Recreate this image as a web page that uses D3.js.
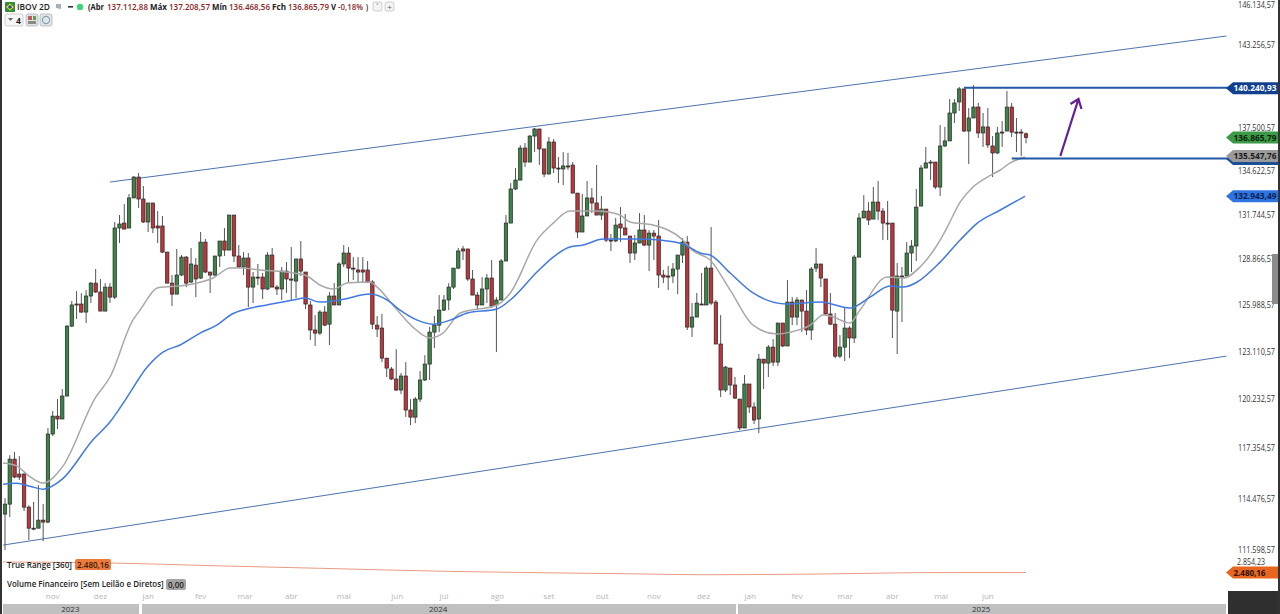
<!DOCTYPE html>
<html><head><meta charset="utf-8">
<script src="https://cdn.jsdelivr.net/npm/d3@7"></script>
<style>
html,body{margin:0;padding:0;background:#fff;overflow:hidden}
svg{display:block}
text{font-family:"Open Sans","Noto Sans",sans-serif}
</style></head><body><svg id="c" width="1280" height="614"></svg>
<script>
const opens=[113600,114160,116730,115870,115870,113990,112810,112810,113260,113150,118190,119240,119070,120430,124670,126040,126040,125540,126540,127350,126790,125600,127100,126470,130870,131190,130870,132830,134210,132760,131260,132500,131000,131000,129320,127350,126660,127860,129000,127420,128490,127670,129960,128050,127860,129070,130030,129450,131710,129070,128370,128940,127100,127730,127730,126980,129130,127100,126980,128110,127610,127480,128880,128050,125980,124430,124240,125540,124790,126540,125980,128560,129260,128300,128180,128180,128180,127420,124730,124550,122710,122050,121450,120790,121630,119600,119180,120250,121390,122350,124300,124730,125660,126290,127100,128300,129520,129520,127610,126600,125980,126980,127670,125980,126290,128750,131190,133420,134010,136150,135210,136960,137440,136090,134410,136560,134810,134750,134950,135010,133150,130610,131650,132830,132500,131710,132100,130090,130030,131130,130870,130350,129260,129900,130740,129770,130540,130350,127860,127800,127800,128240,129130,129960,124610,125230,126040,125980,128300,126160,123570,120790,122110,121090,120250,118540,121150,119780,119070,122650,122410,123380,122470,124860,123450,126160,125230,126290,125600,124430,128300,128560,127610,125420,124790,122830,123380,124550,123940,129000,131520,131970,131450,132560,131970,131190,131190,125600,127800,127800,129260,129710,132300,134810,135210,135210,133550,136290,136630,138530,139290,140190,137300,138190,138940,137170,137580,136290,135820,137230,137300,138940,137230,137230,137113];
const highs=[114500,116960,117140,116900,115930,114100,114280,115240,114160,118540,119540,120250,120850,124730,126230,126850,126720,126910,127420,128240,127610,127350,127350,131260,131710,132430,133090,134280,134480,133620,132500,132500,131970,131650,129320,127860,129520,129130,129070,129580,128940,130610,130160,128050,129070,130030,130870,131710,131710,129770,129320,129260,128050,128560,127990,129320,129580,127230,128370,128680,129640,128880,130030,128050,126230,125350,125660,125910,126790,127350,128680,129770,129640,129000,129000,129000,128750,127540,125290,125420,122710,122170,123260,121810,122470,120250,120370,121930,122890,124610,125290,126600,126600,127350,128300,129580,129710,129520,128180,126790,127730,127920,128810,126470,128880,131710,133810,134810,136350,136490,137030,137510,137440,136090,136900,136760,135550,135880,135820,135210,133150,133090,133950,133480,135010,132960,132100,130480,131520,132230,131780,130350,130420,131840,131710,130740,130740,131390,128180,128430,128620,129130,130220,130350,126100,126730,127990,128430,130930,126290,125350,122230,122110,121570,120250,121690,121150,120070,122960,122650,123510,123870,124860,124860,127540,126470,126470,126290,126910,128370,129580,128560,127610,126730,125480,124120,125790,124670,129130,131840,133020,132560,133550,133950,132170,132630,131190,128620,128370,129960,130090,133420,135010,136220,135350,135210,137710,137580,139490,139490,140330,140190,138870,140460,139220,138530,138870,136960,137580,137980,140050,139220,138190,137440,137209];
const lows=[111590,113430,115640,115530,113770,112150,112700,112810,112090,113090,118070,118480,119070,120430,124610,125110,125480,124860,126100,126730,125600,125600,126100,126350,129900,130800,130870,132830,132170,131190,130610,130540,129900,129260,127350,125910,126660,127800,127100,127350,126470,127610,127990,126730,127800,128370,129070,129450,128680,128300,127860,125850,126100,127230,126350,126910,127100,126600,126290,126730,126290,126410,127800,125730,123810,123450,124120,124670,123510,125980,125980,128370,127420,127540,127350,127350,127350,124490,124000,122470,121570,121390,120730,120550,119190,118710,118830,120070,121330,121390,123320,124300,125600,125660,126980,128240,128810,127480,126600,125660,125980,126100,125790,123080,126290,128750,131190,133350,134010,134880,135210,135880,135010,134210,134410,134480,133810,133680,134680,133150,130220,130610,131650,131840,131710,131390,129960,129390,129960,129960,130420,128620,128810,129900,129710,128110,128810,127040,127350,126910,127350,126660,128620,124430,124000,125230,125980,125980,125980,123570,120370,120670,120490,120250,118420,118540,119420,118770,118240,120850,121570,122230,122230,123380,123450,124730,124730,124300,124120,123810,128050,127100,125350,124730,122710,122710,122530,122710,123630,129000,131520,131060,131450,131390,130090,130090,123940,122960,124920,127800,128050,128750,132300,134810,134010,133420,132960,136220,136630,137850,138670,137230,135080,138190,136830,136220,136150,134210,135750,136220,137300,136900,135880,135610,136469];
const closes=[114160,116730,115700,115700,113990,112810,112760,113260,113150,118190,119240,119070,120430,124670,125980,125980,125540,126540,127350,126790,125600,127100,126470,130870,131130,130800,132830,134210,132760,131260,132500,130870,130870,129320,127350,126660,127860,129000,127350,128560,127610,129960,128050,127860,129070,130030,129450,131710,129070,128370,128940,127100,127730,127670,126980,129130,127100,126980,128110,127610,127540,128880,128110,126040,124430,124240,125540,124730,126540,125980,128560,129260,128300,128240,128050,128050,127420,124790,124490,122710,122110,121450,120790,121630,119600,119180,120250,121390,122350,124300,124730,125660,126290,127100,128300,129390,129390,127610,126600,125980,126980,127670,125910,126290,128750,131190,133420,134010,136150,135210,136960,137440,136090,134410,136560,134810,134750,134950,134880,133150,130610,131650,132830,132500,131710,132100,130090,130030,131060,130870,130420,129260,129900,130740,129770,130540,130350,127860,127730,127730,128240,129130,129960,124610,125230,126100,125980,128300,126100,123570,120790,122170,121090,120310,118540,121150,119780,119010,122650,122410,123380,122470,124860,123450,126160,125230,126290,125600,124430,128240,128560,127670,125420,124790,122830,123380,124550,123940,129000,131520,131970,131390,132560,131970,131190,131130,125660,127800,127730,129260,129710,132230,134810,135150,135150,133550,136290,136630,138530,139220,140190,137300,138190,138940,137170,137580,136360,135820,137170,137170,138940,137230,137170,137170,136866];

const grayIdx=[-0.4,2.5,4.8,8,12,18.9,22,26.8,28.3,31.9,33.1,38.2,43.6,47.2,49.3,53.5,60.4,63.3,66,68.8,71.7,76.5,78,82.2,85.5,89.1,91.8,95.4,103.1,105.9,111.5,114.9,118.4,120.5,124.1,128.9,131,135.8,142.1,144,147.8,152,156.8,161.8,164.6,168.8,171.5,173.6,177.1,179.2,184.9,188.3,191.8,196,197.5,200.2,202.9,205.9,208.6,210.7,213.8];
const grayMA=[116500,116330,115810,115360,116270,120310,121570,125040,125660,127040,127100,127230,127670,128300,128300,128180,127990,127800,127230,126980,127350,127420,127100,125660,124610,123940,124240,125480,125980,126730,130090,131190,131970,131970,131970,131710,131260,131060,130090,129450,128810,126910,124730,124180,124300,124730,125350,125230,124860,125660,127730,127670,128370,130090,130930,132560,133550,134210,134680,135150,135548];
const blueIdx=[-0.4,2.5,5.2,8,12,18.4,22,25.2,29.8,33.1,36.7,40.9,44.4,47.6,50.7,54.9,60.4,62.9,66,70.2,76.5,80.1,82.8,86.4,89.7,93.3,96.9,103.1,105.9,111.5,114.9,118.4,121.2,125.4,133.1,137.3,142.1,145.7,147.8,152,156.8,163.9,170.9,177.1,181.3,185.5,188.3,191.2,196,200.2,203.8,208.6,213.8];
const blueMA=[115290,115350,115180,115010,115580,117840,118890,120190,122170,123080,123510,124240,124730,125420,125730,125980,126290,126410,126160,126290,126660,126290,125660,125040,124790,125040,125480,125730,126290,128050,129000,129640,129770,130160,130160,130090,129840,129260,129130,127990,126730,126040,126160,125790,126470,127170,127100,127420,128680,130090,131190,132040,132943];

const trIdx=[-0.4,22,44,66,93,133,146,167,198,214];
const trueRange=[2854,2820,2720,2630,2520,2430,2400,2420,2480,2480.16];

const priceTicks=[146134.57,143256.57,137500.57,134622.57,131744.57,128866.57,125988.57,123110.57,120232.57,117354.57,114476.57,111598.57];
const monthLabels=["nov","dez","jan","fev","mar","abr","mai","jun","jul","ago","set","out","nov","dez","jan","fev","mar","abr","mai","jun"];
const monthIdx=[10,20,30,41,50.3,60,71,82.2,92,103.2,114,125.2,136,146.4,156.2,166,176.1,186,196.2,206];
const yearLabels=["2023","2024","2025"];
const yearIdx=[13.7,90.8,204.6];
const channelTopIdx=[22,256],channelTopPrice=[133880,143910];
const channelBotIdx=[-0.4,256],channelBotPrice=[111870,122835];
const resistance=140240.93,support=135547.76,ma50Last=132943.49,lastClose=136865.79;
const trLast=2480.16,trTop=2854.23;
const arrowIdx=[221.2,225],arrowPrice=[135615,139494];

const svg=d3.select("#c");
const x=d3.scaleLinear().domain([0,214]).range([5,1026]);
const y=d3.scaleLog().domain([111598.57,146134.57]).range([550,5]);
const yTR=d3.scaleLinear().domain([2480.16,2854.23]).range([572.5,562]);
const loc=d3.formatLocale({decimal:",",thousands:".",grouping:[3],currency:["",""]});
const fmt=loc.format(",.2f");

// text helper: narrows the glyphs to the reference's measured width
function T(p,tx,ty,str,size,weight,fill,len){
 const t=p.append("text").attr("font-size",size).attr("font-weight",weight).attr("fill",fill).text(str);
 const k=len?len/t.node().getComputedTextLength():1;
 t.attr("transform",`translate(${tx},${ty}) scale(${k},1)`);
 return t;
}

// channel lines
const chan="#4c73ad";
svg.append("line").attr("x1",x(channelTopIdx[0])).attr("x2",x(channelTopIdx[1])).attr("y1",y(channelTopPrice[0])).attr("y2",y(channelTopPrice[1])).attr("stroke",chan).attr("stroke-width",1);
svg.append("line").attr("x1",x(channelBotIdx[0])).attr("x2",x(channelBotIdx[1])).attr("y1",y(channelBotPrice[0])).attr("y2",y(channelBotPrice[1])).attr("stroke",chan).attr("stroke-width",1);

// candles
const bars=d3.range(opens.length);
svg.append("g").selectAll("line").data(bars).join("line")
 .attr("x1",i=>x(i)).attr("x2",i=>x(i)).attr("y1",i=>y(highs[i])).attr("y2",i=>y(lows[i]))
 .attr("stroke","#555").attr("stroke-width",1);
svg.append("g").selectAll("rect").data(bars).join("rect")
 .attr("x",i=>x(i)-1.7).attr("width",3.4)
 .attr("y",i=>y(Math.max(opens[i],closes[i])))
 .attr("height",i=>Math.max(1,Math.abs(y(opens[i])-y(closes[i]))))
 .attr("fill",i=>closes[i]>=opens[i]?"#3c8446":"#bd343a")
 .attr("stroke","#262626").attr("stroke-width",.7);

// moving averages
const line=d3.line().curve(d3.curveMonotoneX);
svg.append("path").attr("fill","none").attr("stroke","#a8a8a8").attr("stroke-width",1.5)
 .attr("d",line(grayIdx.map((d,k)=>[x(d),y(grayMA[k])])));
svg.append("path").attr("fill","none").attr("stroke","#4079e2").attr("stroke-width",1.5)
 .attr("d",line(blueIdx.map((d,k)=>[x(d),y(blueMA[k])])));

// horizontal levels
svg.append("line").attr("x1",x(201)).attr("x2",1228).attr("y1",y(resistance)-.5).attr("y2",y(resistance)-.5).attr("stroke","#2258a5").attr("stroke-width",2);
svg.append("line").attr("x1",x(211)).attr("x2",1228).attr("y1",y(support)+1.5).attr("y2",y(support)+1.5).attr("stroke","#2258a5").attr("stroke-width",2);

// arrow
const ax0=x(arrowIdx[0]),ay0=y(arrowPrice[0]),ax1=x(arrowIdx[1]),ay1=y(arrowPrice[1]);
svg.append("path").attr("fill","none").attr("stroke","#651d98").attr("stroke-width",2.2)
 .attr("d",`M${ax0},${ay0}L${ax1},${ay1}M${ax1-8},${ay1+5}L${ax1},${ay1}L${ax1+3},${ay1+10}`);

// true range
svg.append("path").attr("fill","none").attr("stroke","#e89a82").attr("stroke-width",1)
 .attr("d",d3.line().curve(d3.curveMonotoneX)(trIdx.map((d,k)=>[x(d),yTR(trueRange[k])])));

// price axis ticks
const axisG=svg.append("g");
priceTicks.forEach(d=>T(axisG,1238,y(d)+3,fmt(d),8.6,400,"#333",37));
T(axisG,1237,yTR(trTop)+3,fmt(trTop),8.6,400,"#333",28);

// right tags
function tag(py,val,fill,color){
 const h=6;
 svg.append("path").attr("fill",fill).attr("d",`M1226,${py}L1233,${py-h}H1278V${py+h}H1233Z`);
 if(color)T(svg,1233.5,py+3.2,fmt(val),8.8,700,color,val<10000?32:43);
}
tag(y(support)+2,support,"#1c4f96",null);
tag(y(support)-1,support,"#9a9a9a","#1a1a1a");
tag(y(resistance),resistance,"#123f8e","#fff");
tag(y(lastClose),lastClose,"#3c9a47","#0b1f0d");
tag(y(ma50Last),ma50Last,"#2f74e0","#0a1f55");
tag(yTR(trLast),trLast,"#e8661f","#2a1205");

// scrollbar, frames
svg.append("rect").attr("x",1272).attr("y",254).attr("width",6).attr("height",50).attr("fill","#8c8c8c");
svg.append("rect").attr("x",1228).attr("y",591).attr("width",52).attr("height",23).attr("fill","#2f2f2f");
svg.append("rect").attr("x",0).attr("y",0).attr("width",2).attr("height",614).attr("fill","#333");
svg.append("rect").attr("x",1278).attr("y",0).attr("width",2).attr("height",614).attr("fill","#333");

// time axis
svg.append("g").selectAll("text").data(monthIdx).join("text")
 .attr("x",d=>x(d)).attr("y",599).attr("text-anchor","middle").attr("font-size",8).attr("fill","#b5b5b5").text((d,k)=>monthLabels[k]);
[[3,139],[142,736],[738,1226]].forEach(s=>svg.append("rect").attr("x",s[0]).attr("y",604).attr("width",s[1]-s[0]).attr("height",10).attr("fill","#c0c0c0"));
svg.append("g").selectAll("text.y").data(yearIdx).join("text")
 .attr("x",d=>x(d)).attr("y",612).attr("text-anchor","middle").attr("font-size",8).attr("fill","#333").text((d,k)=>yearLabels[k]);

// indicator labels
T(svg,7,568,"True Range [360]",8.6,600,"#222",65);
svg.append("rect").attr("x",75).attr("y",559).attr("width",36).attr("height",11).attr("rx",2).attr("fill","#ec7a3c");
T(svg,77,568,fmt(trLast),8.6,600,"#3a1a08",32);
T(svg,7,587,"Volume Financeiro [Sem Leilão e Diretos]",8.6,600,"#222",157);
svg.append("rect").attr("x",166).attr("y",579).attr("width",20).attr("height",11).attr("rx",2).attr("fill","#a5a5a5");
T(svg,168,588,"0,00",8.6,600,"#222",16);

// header
const hdr=svg.append("g");
hdr.append("rect").attr("x",5).attr("y",2).attr("width",10).attr("height",10).attr("rx",1).attr("fill","#2f8f3a");
hdr.append("path").attr("d","M10,3.5L14,7L10,10.5L6,7Z").attr("fill","#e4d33c");
hdr.append("circle").attr("cx",10).attr("cy",7).attr("r",1.8).attr("fill","#2a4aa0");
T(hdr,17,10,"IBOV 2D",9.6,600,"#222",33);
hdr.append("path").attr("d","M56,4h5v5l-5,-1Z").attr("fill","#a5afc0");
hdr.append("rect").attr("x",68).attr("y",6).attr("width",5).attr("height",1.6).attr("fill","#333");
hdr.append("circle").attr("cx",80).attr("cy",7).attr("r",3.2).attr("fill","#3fd47a");
const hdrLabels=["(Abr","137.112,88","Máx","137.208,57","Mín","136.468,56","Fch","136.865,79","V","-0,18%",")"];
hdrLabels.forEach((s,k)=>{
 const pos=[88,107,150,169,212,229,272,288,331,338,366][k], len=[16,41,17,41,15,41,14,41,5,25,2][k];
 const lab=k%2===0&&k<9;
 T(hdr,pos,10,s,8.8,lab||k===10?700:600,lab||k===10?"#222":"#8c1f1f",len);
});
[[373,"˅"],[385,"+"]].forEach(b=>{
 hdr.append("rect").attr("x",b[0]).attr("y",2).attr("width",9).attr("height",9).attr("rx",2).attr("fill","#f4f4f4").attr("stroke","#bbb").attr("stroke-width",.7);
 hdr.append("text").attr("x",b[0]+4.5).attr("y",9.5).attr("text-anchor","middle").attr("font-size",8).attr("fill","#555").text(b[1]);
});
hdr.append("rect").attr("x",5).attr("y",14).attr("width",18).attr("height",12).attr("rx",2).attr("fill","#f6f6f6").attr("stroke","#bbb").attr("stroke-width",.7);
hdr.append("path").attr("d","M8,18h5l-2.5,3Z").attr("fill","#666");
T(hdr,16,23.5,"4",8.6,700,"#222");
hdr.append("rect").attr("x",26).attr("y",14).attr("width",12).attr("height",12).attr("rx",2).attr("fill","#dfe3e6").attr("stroke","#aaa").attr("stroke-width",.7);
hdr.append("rect").attr("x",28).attr("y",16).attr("width",4).attr("height",4).attr("fill","#c25a5a");
hdr.append("rect").attr("x",33).attr("y",16).attr("width",3).attr("height",4).attr("fill","#5aa05a");
hdr.append("rect").attr("x",28).attr("y",21).attr("width",8).attr("height",3).attr("fill","#888");
hdr.append("rect").attr("x",40).attr("y",14).attr("width",12).attr("height",12).attr("rx",2).attr("fill","#dfe7ec").attr("stroke","#aaa").attr("stroke-width",.7);
hdr.append("circle").attr("cx",46).attr("cy",20).attr("r",3.6).attr("fill","none").attr("stroke","#8aa0ad").attr("stroke-width",1.2);
</script></body></html>
